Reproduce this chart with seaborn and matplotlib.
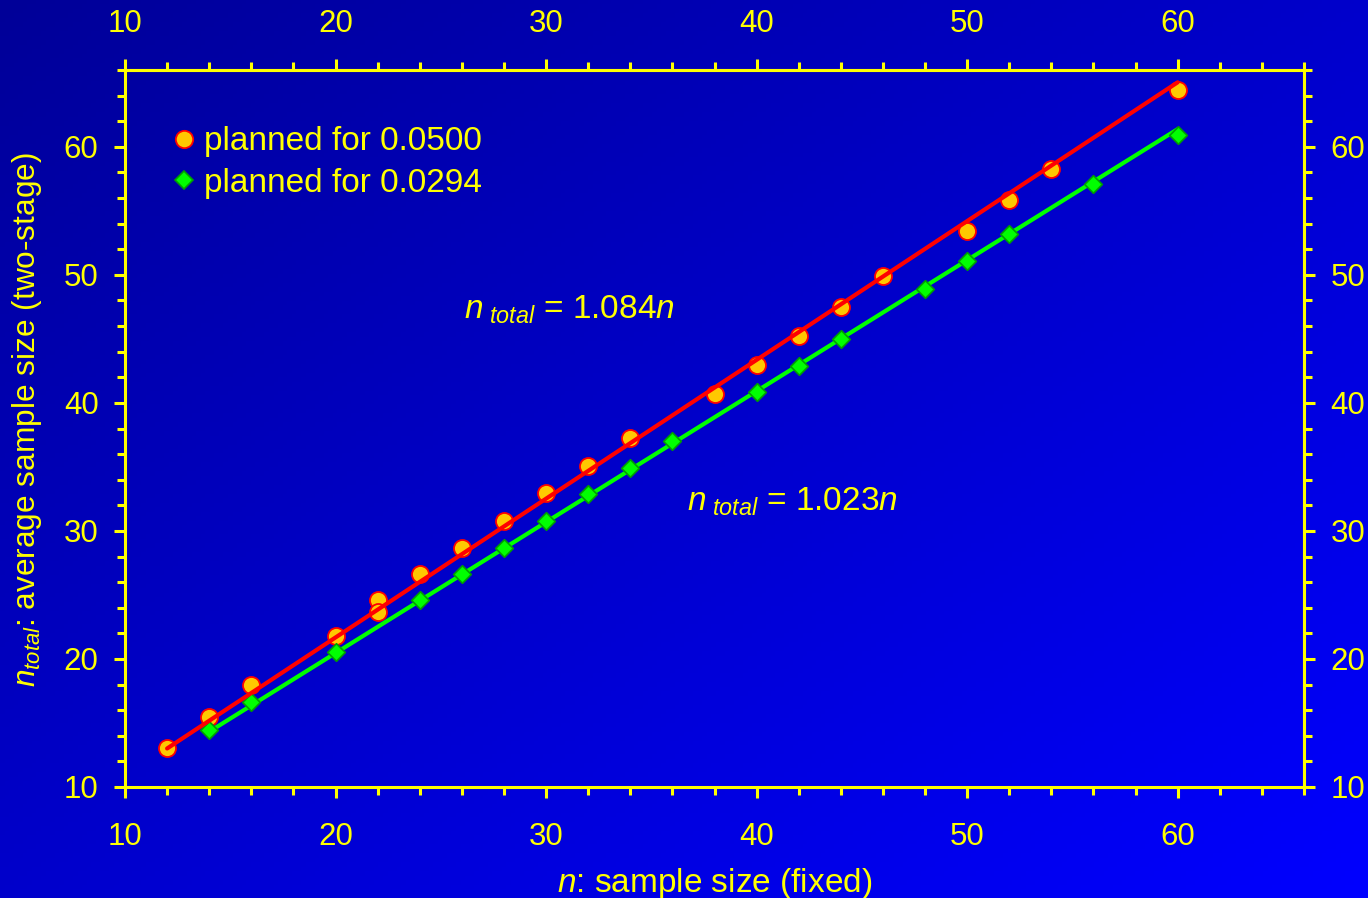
import numpy as np
import pandas as pd
import matplotlib
matplotlib.use("Agg")
import matplotlib.pyplot as plt
from matplotlib.colors import LinearSegmentedColormap
from matplotlib.lines import Line2D
from matplotlib.ticker import MultipleLocator
import seaborn as sns

# Average two-stage sample size against fixed sample size
n_red = [12, 14, 16, 20, 22, 22, 24, 26, 28, 30, 32, 34, 38, 40, 42, 44, 46, 50, 52, 54, 60]
ntot_red = [13.05, 15.47, 17.97, 21.8, 24.6, 23.67, 26.64, 28.67, 30.78, 32.97, 35.08,
            37.27, 40.7, 42.97, 45.23, 47.5, 49.92, 53.44, 55.86, 58.28, 64.4]
n_green = [14, 16, 20, 24, 26, 28, 30, 32, 34, 36, 40, 42, 44, 48, 50, 52, 56, 60]
ntot_green = [14.45, 16.64, 20.55, 24.6, 26.64, 28.67, 30.78, 32.89, 34.92, 37.03,
              40.86, 42.89, 45.0, 48.9, 51.1, 53.2, 57.1, 60.94]

# Fitted proportional lines
slope_red = 1.084
slope_green = 1.023
fit_range_red = [12, 60]
fit_range_green = [14, 60]

tick_values = [10, 20, 30, 40, 50, 60]
legend_labels = ["planned for 0.0500", "planned for 0.0294"]
fit_labels = [r"$n_{\ total}$ = 1.084$n$", r"$n_{\ total}$ = 1.023$n$"]

YELLOW = "#FFFF00"
TICK_FS = 22.5
TEXT_FS = 24

sns.set_theme(style="white")
plt.rcParams["font.family"] = ["Liberation Sans", "DejaVu Sans"]
plt.rcParams["mathtext.fontset"] = "custom"
plt.rcParams["mathtext.rm"] = "Liberation Sans"
plt.rcParams["mathtext.it"] = "Liberation Sans:italic"
plt.rcParams["mathtext.bf"] = "Liberation Sans:bold"

fig = plt.figure(figsize=(13.68, 8.98), dpi=100)

# Diagonal blue gradient background
bg = fig.add_axes([0, 0, 1, 1], zorder=-10)
H, W = 200, 300
yy, xx = np.mgrid[0:H, 0:W]
grad = (xx / (W - 1) + yy / (H - 1)) / 2.0
cmap = LinearSegmentedColormap.from_list("bg", ["#000098", "#0000FF"])
bg.imshow(grad, cmap=cmap, aspect="auto", extent=[0, 1, 0, 1], origin="upper")
bg.set_axis_off()

ax = fig.add_axes([125 / 1368, 1 - 787 / 898, (1304 - 125) / 1368, (787 - 70) / 898])
ax.set_facecolor("none")

df_red = pd.DataFrame({"n": n_red, "ntot": ntot_red})
df_green = pd.DataFrame({"n": n_green, "ntot": ntot_green})
fit_red = pd.DataFrame({"n": fit_range_red, "ntot": [slope_red * v for v in fit_range_red]})
fit_green = pd.DataFrame({"n": fit_range_green, "ntot": [slope_green * v for v in fit_range_green]})

sns.scatterplot(data=df_red, x="n", y="ntot", ax=ax, marker="o", s=150,
                color="#FFC800", edgecolor="#FF0000", linewidth=1.3, zorder=2)
sns.lineplot(data=fit_green, x="n", y="ntot", ax=ax, color="#00FF00", linewidth=3, zorder=3)
sns.scatterplot(data=df_green, x="n", y="ntot", ax=ax, marker="D", s=80,
                color="#00FF00", edgecolor="#00A000", linewidth=1.2, zorder=4)
sns.lineplot(data=fit_red, x="n", y="ntot", ax=ax, color="#FF0000", linewidth=3, zorder=5)

ax.set_xlim(10, 66)
ax.set_ylim(10, 66)

for sp in ax.spines.values():
    sp.set_visible(True)
    sp.set_color(YELLOW)
    sp.set_linewidth(2.2)

ax.xaxis.set_minor_locator(MultipleLocator(2))
ax.yaxis.set_minor_locator(MultipleLocator(2))
ax.set_xticks(tick_values)
ax.set_yticks(tick_values)
ax.tick_params(which="both", direction="out", color=YELLOW, width=2.2,
               bottom=True, left=True, top=False, right=False,
               labelcolor=YELLOW, labelsize=TICK_FS)
ax.tick_params(which="major", length=8)
ax.tick_params(which="minor", length=5.5)
ax.tick_params(axis="x", which="major", pad=17)
ax.tick_params(axis="y", which="major", pad=11)

# Mirrored scales on the top and right edges
top = ax.secondary_xaxis("top")
right = ax.secondary_yaxis("right")
for sec, axis_name, pad in [(top, "x", 14), (right, "y", 11)]:
    sec.set_ticks(tick_values)
    if axis_name == "x":
        sec.xaxis.set_minor_locator(MultipleLocator(2))
    else:
        sec.yaxis.set_minor_locator(MultipleLocator(2))
    for sp in sec.spines.values():
        sp.set_color(YELLOW)
        sp.set_linewidth(2.2)
    sec.tick_params(which="both", direction="out", color=YELLOW, width=2.2,
                    labelcolor=YELLOW, labelsize=TICK_FS)
    sec.tick_params(which="major", length=8, pad=pad)
    sec.tick_params(which="minor", length=5.5)

ax.set_xlabel(r"$n$: sample size (fixed)", color=YELLOW, fontsize=TEXT_FS, labelpad=10)
ax.set_ylabel(r"$n_{total}$: average sample size (two-stage)", color=YELLOW, fontsize=22.8)
ax.yaxis.set_label_coords(-0.069, 0.512)

ax.text(26.1, 47.3, fit_labels[0], color=YELLOW, fontsize=TEXT_FS, va="center", ha="left")
ax.text(36.7, 32.3, fit_labels[1], color=YELLOW, fontsize=TEXT_FS, va="center", ha="left")

handles = [
    Line2D([], [], linestyle="none", marker="o", markersize=12.5,
           markerfacecolor="#FFC800", markeredgecolor="#FF0000", markeredgewidth=1.3),
    Line2D([], [], linestyle="none", marker="D", markersize=9,
           markerfacecolor="#00FF00", markeredgecolor="#00A000", markeredgewidth=1.2),
]
leg = ax.legend(handles, legend_labels, loc="upper left", bbox_to_anchor=(0.0275, 0.94),
                frameon=False, fontsize=TEXT_FS, handlelength=0.8, handletextpad=0.2,
                labelspacing=0.32, borderaxespad=0)
for t in leg.get_texts():
    t.set_color(YELLOW)

fig.savefig("out.png", dpi=100)
